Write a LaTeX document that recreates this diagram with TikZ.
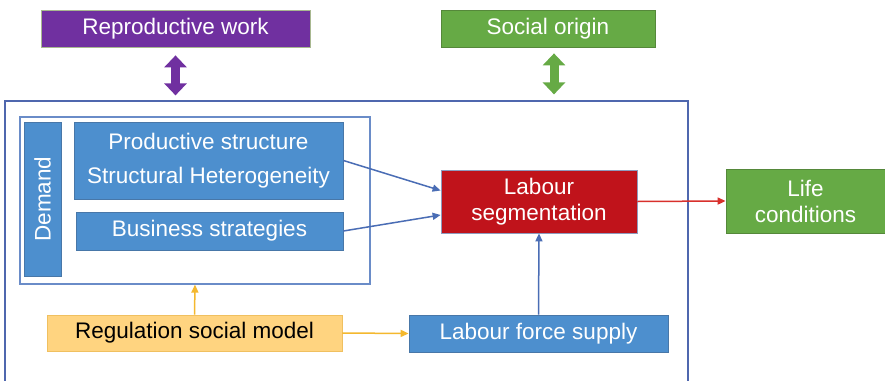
\documentclass[tikz,border=0pt]{standalone}
\usepackage{fontspec}
\setmainfont{Liberation Sans}
\usetikzlibrary{arrows.meta}
\definecolor{cpurple}{HTML}{7030A0}
\definecolor{cgreen}{HTML}{66AA45}
\definecolor{cgreenb}{HTML}{55883A}
\definecolor{cblue}{HTML}{4D8FCE}
\definecolor{cblueb}{HTML}{4877A8}
\definecolor{cred}{HTML}{C0131B}
\definecolor{credb}{HTML}{8E9BBE}
\definecolor{corange}{HTML}{FFD480}
\definecolor{corangeb}{HTML}{F0C060}
\definecolor{cline}{HTML}{4F67AE}
\definecolor{cinner}{HTML}{6A8CC8}
\definecolor{carrow}{HTML}{4A6DB5}
\definecolor{carrowo}{HTML}{F4B82E}
\definecolor{carrowr}{HTML}{D8302C}
\definecolor{cpurpleb}{HTML}{A8B890}
\begin{document}
\begin{tikzpicture}[x=1pt,y=-1pt,
  box/.style={draw=cblueb, line width=0.8pt, inner sep=0pt, text=white, align=center,
    font=\fontsize{22.5}{26}\selectfont},
  bluebox/.style={box, fill=cblue},
  frame/.style={draw=cline, line width=1.2pt, inner sep=0pt},
  conn/.style={line width=1.5pt, -{Triangle[length=8pt,width=7pt]}},
  dbl/.style={line width=9pt, {Triangle[length=12pt,width=22pt]}-{Triangle[length=12pt,width=22pt]}}
]
\useasboundingbox (0,0) rectangle (885,380);
\fill[white] (0,0) rectangle (885,380);

% frames
\node[frame, minimum width=683pt, minimum height=294pt] (outer) at (346.5,248) {};
\node[draw=cinner, line width=1.2pt, inner sep=0pt, minimum width=350pt, minimum height=167pt] (inner) at (195,200.5) {};

% top boxes
\node[box, fill=cpurple, draw=cpurpleb, minimum width=269pt, minimum height=37pt] (repro) at (175.5,28.5) {Reproductive work};
\node[box, fill=cgreen, draw=cgreenb, minimum width=214pt, minimum height=37pt] (social) at (548,28.5) {Social origin};

% demand block
\node[bluebox, rotate=90, minimum width=154pt, minimum height=37pt] (demand) at (42.5,199) {Demand};
\node[bluebox, minimum width=269pt, minimum height=77pt, font=\fontsize{22.5}{34}\selectfont] (prod) at (208.5,160.5) {Productive structure\\Structural Heterogeneity};
\node[bluebox, minimum width=267pt, minimum height=38pt] (bus) at (209.5,231) {Business strategies};

% others
\node[box, fill=corange, draw=corangeb, text=black, minimum width=295pt, minimum height=36pt] (reg) at (194.5,333) {Regulation social model};
\node[box, fill=cred, draw=credb, minimum width=196pt, minimum height=63pt] (seg) at (539,201.5) {Labour\\segmentation};
\node[box, fill=cgreen, draw=cgreenb, minimum width=159pt, minimum height=64pt] (life) at (805.5,201) {Life\\conditions};
\node[bluebox, minimum width=259pt, minimum height=37pt] (supply) at (538.5,333.5) {Labour force supply};

% double arrows
\draw[dbl, draw=cpurple, fill=cpurple, shorten <=8pt, shorten >=5pt] (repro.south) -- (repro.south |- outer.north);
\draw[dbl, draw=cgreen, fill=cgreen, shorten <=6pt, shorten >=6pt] ([xshift=6pt]social.south) -- ([xshift=6pt]social.south |- outer.north);

% connectors
\draw[conn, draw=carrow, fill=carrow] (prod.east) -- ([yshift=11pt]seg.west);
\draw[conn, draw=carrow, fill=carrow] (bus.east) -- ([yshift=-13.5pt]seg.west);
\draw[conn, draw=carrow, fill=carrow] (supply.north) -- (seg.south);
\draw[conn, draw=carrowo, fill=carrowo] (reg.east) -- (supply.west);
\draw[conn, draw=carrowo, fill=carrowo] (reg.north) -- (inner.south);
\draw[conn, draw=carrowr, fill=carrowr] (seg.east) -- (life.west);
\end{tikzpicture}
\end{document}
